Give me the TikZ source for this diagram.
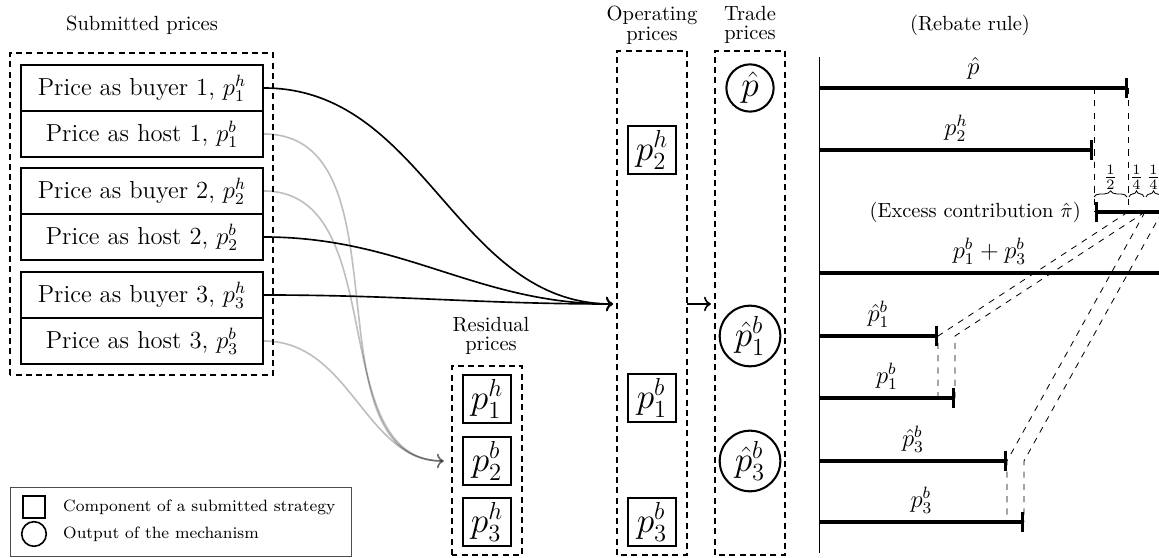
\documentclass[tikz,border=0pt]{standalone}
\usetikzlibrary{arrows.meta,decorations.pathreplacing}
\begin{document}
\begin{tikzpicture}[x=0.4878pt, y=0.4878pt,
  pricebox/.style={draw, thick, minimum width=118pt, minimum height=22.4pt, inner sep=0pt, font=\large},
  compbox/.style={draw, line width=1pt, minimum size=23.5pt, inner sep=1pt, font=\LARGE},
  outbox/.style={draw, line width=1pt, circle, inner sep=2pt, font=\LARGE},
  groupbox/.style={draw, thick, dash pattern=on 3pt off 2pt},
  headline/.style={align=center, font=\linespread{0.8}\selectfont},
  pricebar/.style={line width=1.6pt, -{Bar[width=10pt]}},
  guide/.style={thin, dashed},
  feed/.style={thick, ->},
  resid/.style={thick, ->, draw opacity=0.25}]
\useasboundingbox (0,0) rectangle (1159,558);
\clip (0,0) rectangle (1159,558);

% submitted prices
\node (subtitle) at (142,533) {Submitted prices};
\foreach \i/\y in {1/470,2/367,3/263}{
  \node[pricebox] (buy\i) at (142,\y) {Price as buyer \i, $p_\i^h$};
  \node[pricebox] (host\i) at (142,\y-46) {Price as host \i, $p_\i^b$};
}
\draw[groupbox] (10,183) rectangle (273,505);

% residual prices
\node[headline] (restitle) at (491,222) {Residual\\prices};
\node[compbox] (res1) at (487,159) {$p_1^h$};
\node[compbox] (res2) at (487,97) {$p_2^b$};
\node[compbox] (res3) at (487,36) {$p_3^h$};
\draw[groupbox] (452,3) rectangle (522,192);

% operating and trade prices
\node[headline] (optitle) at (652,533) {Operating\\prices};
\node[compbox] (op2h) at (652,408) {$p_2^h$};
\node[compbox] (op1b) at (652,160) {$p_1^b$};
\node[compbox] (op3b) at (652,36) {$p_3^b$};
\draw[groupbox] (617,3) rectangle (687,507);

\node[headline] (trtitle) at (750,533) {Trade\\prices};
\node[outbox] (tr) at (750,470) {$\hat p$};
\node[outbox] (tr1b) at (750,222) {$\hat p_1^b$};
\node[outbox] (tr3b) at (750,97) {$\hat p_3^b$};
\draw[groupbox] (715,3) rectangle (785,507);

\coordinate (opin) at (617,254);
\coordinate (opout) at (687,254);
\coordinate (trin) at (715,254);
\coordinate (resin) at (452,97);
\foreach \n in {buy1,host2,buy3}
  \draw[feed, shorten >=2pt] (\n.east) to[out=0,in=180] (opin);
\foreach \n in {host1,buy2,host3}
  \draw[resid, shorten >=4pt] (\n.east) to[out=0,in=180] (resin);
\draw[feed, shorten >=2pt] (opout) -- (trin);

% rebate rule
\node (rebtitle) at (970,533) {(Rebate rule)};
\draw (819,501) -- (819,5);
\draw[pricebar] (819,470) -- (1128,470) node[midway, above, font=\large] {$\hat p$};
\draw[pricebar] (819,408) -- (1093,408) node[midway, above, font=\large] {$p_2^h$};
\draw[pricebar, {Bar[width=10pt]}-] (1095,346) -- (1160,346);
\node[anchor=east] (excess) at (1088,346) {(Excess contribution~$\hat\pi$)};
\draw[line width=1.6pt] (819,285) -- (1160,285) node[midway, above, font=\large] {$p_1^b+p_3^b$};
\draw[pricebar] (819,222) -- (938,222) node[midway, above, font=\large] {$\hat p_1^b$};
\draw[pricebar] (819,160) -- (955,160) node[midway, above, font=\large] {$p_1^b$};
\draw[pricebar] (819,97) -- (1007,97) node[midway, above, font=\large] {$\hat p_3^b$};
\draw[pricebar] (819,36) -- (1024,36) node[midway, above, font=\large] {$p_3^b$};

\draw[guide] (1094,470) -- (1094,346);
\draw[guide] (1128,470) -- (1128,346);
\draw[guide] (1128,346) -- (938,222) -- (938,160);
\draw[guide] (1145,346) -- (955,222) -- (955,160);
\draw[guide] (1145,346) -- (1007,97) -- (1007,36);
\draw[guide] (1162,346) -- (1024,97) -- (1024,36);

\draw[thin, decorate, decoration={brace, amplitude=3pt}] (1094,361) -- (1127,361) node[midway, above] {$\frac{1}{2}$};
\draw[thin, decorate, decoration={brace, amplitude=3pt}] (1129,361) -- (1144,361) node[midway, above] {$\frac{1}{4}$};
\draw[thin, decorate, decoration={brace, amplitude=3pt}] (1146,361) -- (1161,361) node[midway, above] {$\frac{1}{4}$};

% legend
\draw[thin, black!70] (10,2) rectangle (351,71);
\node[draw, thick, minimum size=10.5pt, inner sep=0pt] (keysq) at (34,51) {};
\node[draw, thick, circle, minimum size=12pt, inner sep=0pt] (keyci) at (34,24) {};
\node[right, font=\footnotesize] (keysqtext) at (56,51) {Component of a submitted strategy};
\node[right, font=\footnotesize] (keycitext) at (56,24) {Output of the mechanism};
\end{tikzpicture}
\end{document}
